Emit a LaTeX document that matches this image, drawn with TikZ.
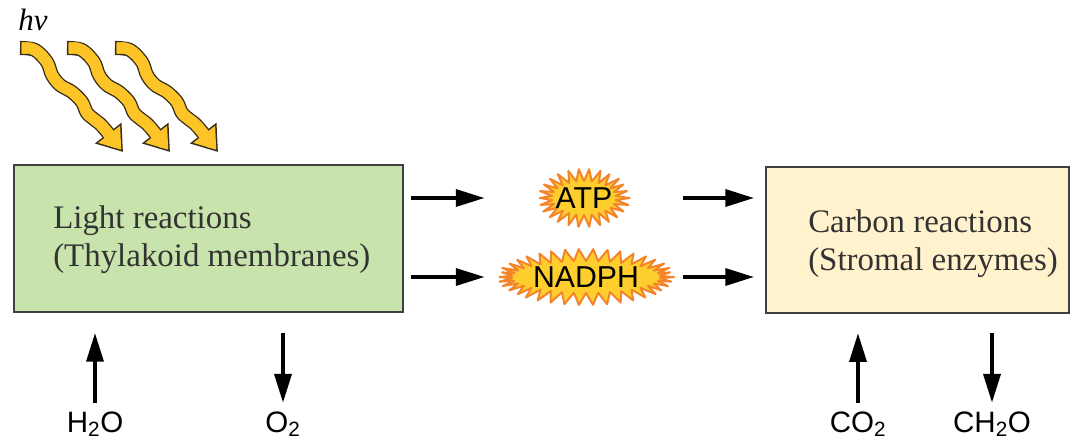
\documentclass[tikz,border=0pt]{standalone}
\usepackage{fontspec}
\setmainfont{Liberation Serif}
\setsansfont{Liberation Sans}
\usetikzlibrary{positioning,arrows.meta,backgrounds,calc}
\definecolor{lightbox}{RGB}{200,228,172}
\definecolor{carbbox}{RGB}{255,242,205}
\definecolor{sun}{RGB}{252,196,38}
\definecolor{sunedge}{RGB}{55,45,25}
\definecolor{burstfill}{RGB}{254,206,46}
\definecolor{burstedge}{RGB}{243,132,42}

% spiky outline round a carrier: half width, half height, number of spikes
\newcommand\burstpath[3]{%
  plot[domain=0:360, samples=2*#3+1, variable=\t]
    ({(#1-13*mod(round(\t*#3/180),2)+2*rand*(1-mod(round(\t*#3/180),2)))*cos(\t)},
     {(#2-12*mod(round(\t*#3/180),2))*sin(\t)}) -- cycle}

\begin{document}
\begin{tikzpicture}[x=0.025cm, y=0.025cm,
  box/.style={draw=black!75, line width=1.2pt, inner sep=0pt},
  boxtxt/.style={anchor=west, align=left, inner sep=0pt,
                 font=\fontsize{23.4}{27}\selectfont, text=black!80},
  carrier/.style={inner sep=0pt, font=\sffamily\fontsize{21.5}{21.5}\selectfont},
  burst/.style={fill=burstfill, draw=burstedge, line width=1.4pt, line join=round},
  chem/.style={font=\sffamily\fontsize{21}{21}\selectfont, inner sep=0pt},
  arr/.style={-{Triangle[length=0.72cm,width=0.42cm]}, line width=2.8pt},
  ray/.style={line join=round},
]
\useasboundingbox (0,0) rectangle (1072,-447);

% the two reaction compartments
\node[box, fill=lightbox, minimum width=9.725cm, minimum height=3.675cm] (light) at (208.5,-238.5) {};
\node[box, fill=carbbox, minimum width=7.575cm, minimum height=3.65cm] (carbon) at (917.5,-240) {};
\node[boxtxt] (lighttxt) at (53,-240) {Light reactions\\(Thylakoid membranes)};
\node[boxtxt] (carbontxt) at (808,-244) {Carbon reactions\\(Stromal enzymes)};

% energy carriers
\node[carrier, minimum width=2.2cm, minimum height=1.4cm] (atp) at (584,-198) {ATP};
\node[carrier, minimum width=4.3cm, minimum height=1.35cm] (nadph) at (586,-277) {NADPH};
\pgfmathsetseed{11}
\begin{scope}[on background layer]
  \draw[burst, shift={(atp.center)}] \burstpath{45}{29}{26};
  \draw[burst, shift={(nadph.center)}] \burstpath{87}{28}{38};
\end{scope}

% incoming light
\node[font=\fontsize{22}{22}\selectfont\itshape, inner sep=0pt] (hnu) at (33,-20) {hν};
\foreach \dx in {0,47,95} {
  \begin{scope}[shift={(\dx,0)}, ray]
    \draw[sunedge, line width=10pt, -{Triangle[length=0.6cm,width=0.8cm]}]
      plot[smooth, tension=0.55] coordinates {(20,-48) (35,-50) (47,-62) (52,-75) (60,-85) (72,-92) (82,-102) (87,-113) (95,-120) (103,-127) (123,-152)};
    \draw[sun, line width=7.9pt, shorten <=0.04cm, shorten >=0.067cm, -{Triangle[length=0.495cm,width=0.66cm]}]
      plot[smooth, tension=0.55] coordinates {(20,-48) (35,-50) (47,-62) (52,-75) (60,-85) (72,-92) (82,-102) (87,-113) (95,-120) (103,-127) (123,-152)};
    \draw[sun, line width=7.9pt, shorten <=0.04cm, shorten >=0.47cm]
      plot[smooth, tension=0.55] coordinates {(20,-48) (35,-50) (47,-62) (52,-75) (60,-85) (72,-92) (82,-102) (87,-113) (95,-120) (103,-127) (123,-152)};
  \end{scope}
}

% substrates and products
\node[chem] (h2o) at (95,-424) {H\textsubscript{2}O};
\node[chem] (o2) at (283,-424) {O\textsubscript{2}};
\node[chem] (co2) at (858,-424) {CO\textsubscript{2}};
\node[chem] (ch2o) at (992,-424) {CH\textsubscript{2}O};

% Connections
\draw[arr, shorten <=0.18cm, shorten >=1.375cm] (light.east |- atp.center) -- (atp.west);
\draw[arr, shorten <=0.18cm, shorten >=0.375cm] (light.east |- nadph.center) -- (nadph.west);
\draw[arr, shorten <=1.375cm, shorten >=0.275cm] (atp.east) -- (carbon.west |- atp.center);
\draw[arr, shorten <=0.275cm, shorten >=0.275cm] (nadph.east) -- (carbon.west |- nadph.center);

\draw[arr, shorten <=0.53cm, shorten >=0.5cm] (h2o.center) -- (h2o.center |- light.south);
\draw[arr, shorten <=0.5cm, shorten >=0.53cm] (o2.center |- light.south) -- (o2.center);
\draw[arr, shorten <=0.53cm, shorten >=0.48cm] (co2.center) -- (co2.center |- carbon.south);
\draw[arr, shorten <=0.48cm, shorten >=0.53cm] (ch2o.center |- carbon.south) -- (ch2o.center);
\end{tikzpicture}
\end{document}
